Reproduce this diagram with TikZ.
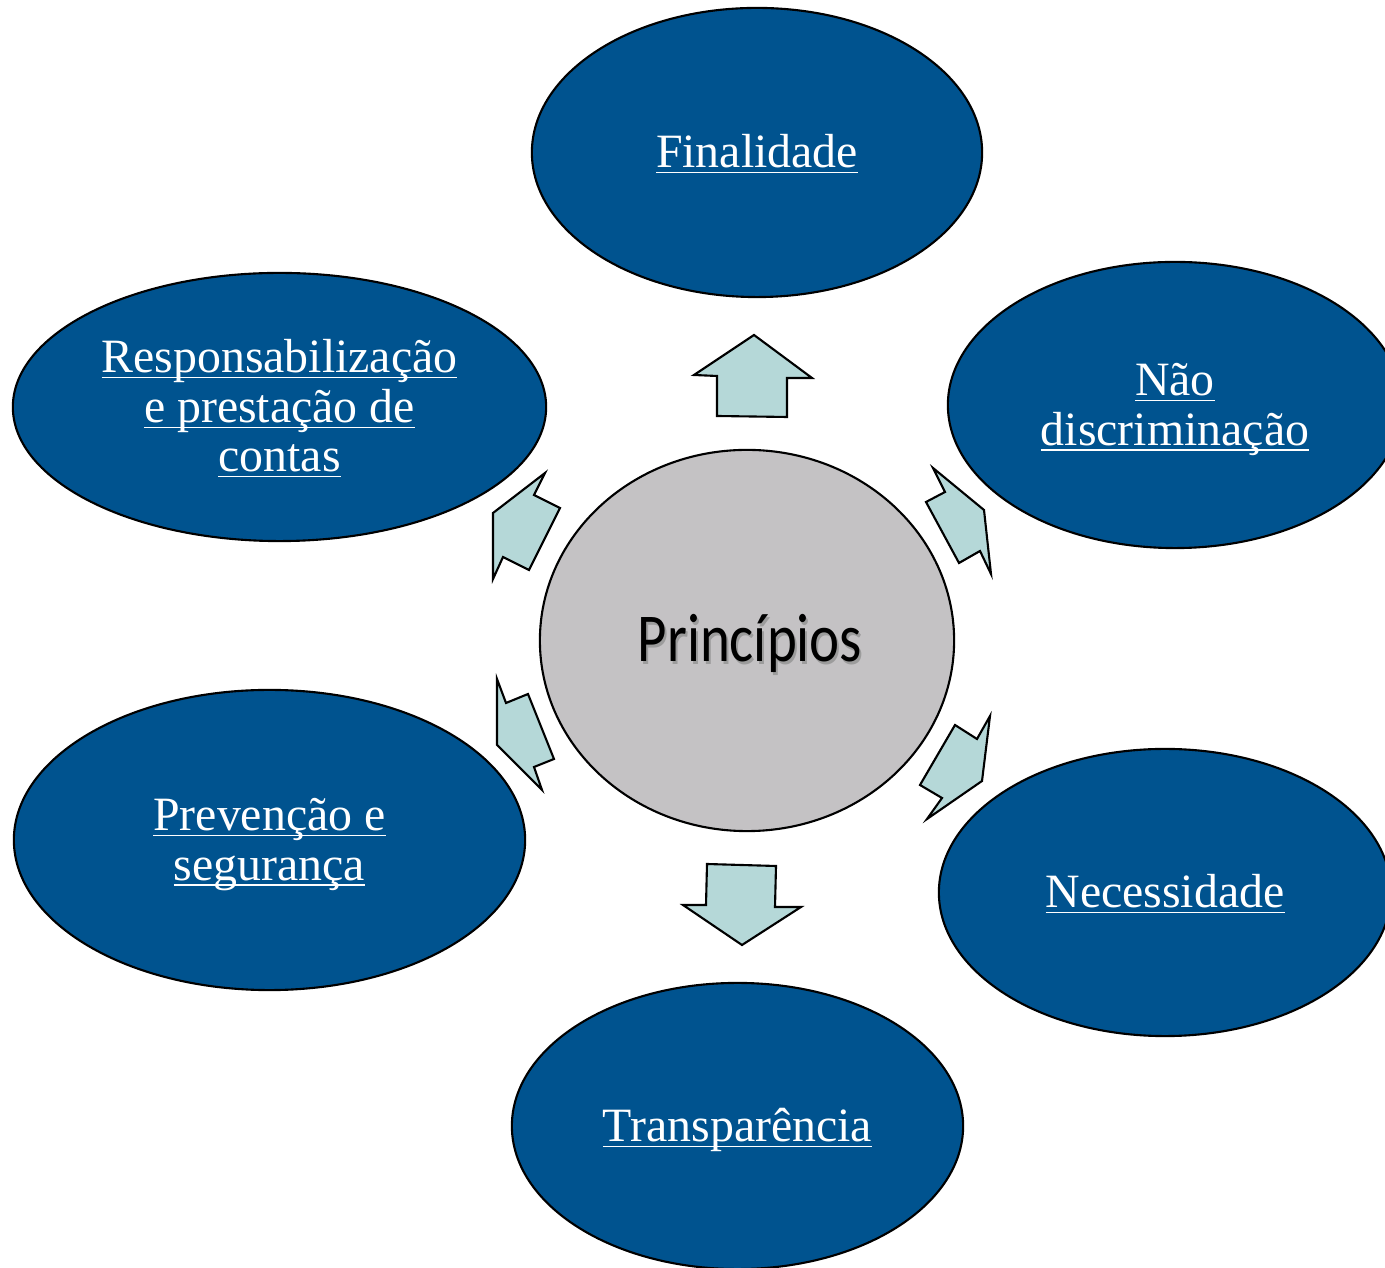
\documentclass[tikz,border=0pt]{standalone}
\usepackage{fontspec}
\setmainfont{Liberation Serif}
\newfontfamily\hubfont{Carlito}
\usetikzlibrary{shapes.geometric}

\definecolor{lgpdblue}{RGB}{0,83,143}
\definecolor{hubgray}{RGB}{196,194,196}
\definecolor{arrowteal}{RGB}{181,216,216}

% underlined line of text, rule kept at the same height on every line
\newcommand\ulline[1]{\underline{\smash{#1}}\rule[-0.8pt]{0pt}{11.5pt}}

\tikzset{
  principle/.style={ellipse, draw=black, line width=0.6pt, fill=lgpdblue,
    inner sep=0pt, text=white, align=center,
    font=\fontsize{13.6}{14.1}\selectfont},
  hub/.style={ellipse, draw=black, line width=0.6pt, fill=hubgray,
    inner sep=0pt, minimum width=4.14cm, minimum height=3.81cm},
  hublabel/.style={font=\hubfont\fontsize{19.5}{22}\selectfont, xscale=0.83},
  blockarrow/.style={fill=arrowteal, draw=black, line width=0.6pt,
    line join=miter}
}

\begin{document}
\begin{tikzpicture}[x=0.01cm, y=-0.01cm]
\useasboundingbox (0,0) rectangle (1385,1268);
\clip (0,0) rectangle (1385,1268);
% centre circle
\node[hub] (hub) at (747,640.5) {};
\node[hublabel, text=black!45, opacity=0.7] (hubshadow) at (752,646) {Princípios};
\node[hublabel, text=black] (hubtext) at (750,643.5) {Princípios};
% the six principles around it
\node[principle, minimum width=4.5cm, minimum height=2.89cm] (finalidade)
  at (757,152.5) {\ulline{Finalidade}};
\node[principle, minimum width=4.54cm, minimum height=2.86cm] (naodisc)
  at (1175,405) {\ulline{Não}\\ \ulline{discriminação}};
\node[principle, minimum width=4.52cm, minimum height=2.87cm] (necessidade)
  at (1165,892.5) {\ulline{Necessidade}};
\node[principle, minimum width=4.51cm, minimum height=2.86cm] (transparencia)
  at (737.5,1126) {\ulline{Transparência}};
\node[principle, minimum width=5.11cm, minimum height=3.0cm] (prevencao)
  at (269.5,840) {\ulline{Prevenção e}\\ \ulline{segurança}};
\node[principle, minimum width=5.33cm, minimum height=2.68cm] (responsab)
  at (279.5,407) {\ulline{Responsabilização}\\ \ulline{e prestação de}\\ \ulline{contas}};
% block arrows: tail, shaft, head corner, tip, head corner, shaft, tail
% up, towards finalidade
\filldraw[blockarrow] (717,416) -- (717,376) -- (694,375) -- (754,335)
  -- (812,378) -- (787,378) -- (787,417) -- cycle;
% up-right, towards naodisc
\filldraw[blockarrow] (926,502) -- (945,492) -- (933,468) -- (984,510)
  -- (991,574) -- (980,551) -- (959,563) -- cycle;
% down-right, towards necessidade
\filldraw[blockarrow] (955,725) -- (977,739) -- (990,716) -- (982,781)
  -- (927,819) -- (942,798) -- (920,785) -- cycle;
% down, towards transparencia
\filldraw[blockarrow] (707,864) -- (706,905) -- (683,905) -- (742,945)
  -- (801,907) -- (775,907) -- (776,866) -- cycle;
% down-left, towards prevencao
\filldraw[blockarrow] (528,694) -- (506,703) -- (497,679) -- (497,745)
  -- (542,790) -- (534,767) -- (554,759) -- cycle;
% up-left, towards responsab
\filldraw[blockarrow] (560,508) -- (534,495) -- (545,473) -- (493,513)
  -- (493,579) -- (503,557) -- (529,570) -- cycle;
\end{tikzpicture}
\end{document}
